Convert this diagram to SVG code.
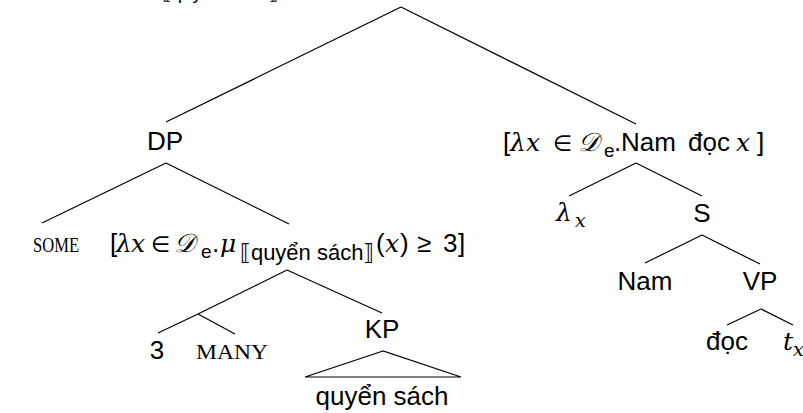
<svg xmlns="http://www.w3.org/2000/svg" width="803" height="413" viewBox="0 0 803 413">
<style>
.t{font-family:"Liberation Sans","DejaVu Sans",sans-serif;font-size:26px;fill:#000}
.m{font-family:"DejaVu Serif","Liberation Serif",serif;font-style:italic;font-size:25px}
.cal{font-family:"DejaVu Serif","Noto Sans","Liberation Serif",serif;font-style:italic;font-size:26px}
.in{font-family:"DejaVu Sans",sans-serif;font-size:22px}
.sub{font-size:19px}
.sb{font-size:22px}
.sc{font-family:"Liberation Serif","DejaVu Serif",serif;font-size:21px;fill:#000}
.e{stroke:#000;stroke-width:1.2;fill:none;stroke-linejoin:miter}
</style>
<rect width="803" height="413" fill="#fff"/>
<g id="edges">
<path class="e" d="M401 7 L166 122"/>
<path class="e" d="M401 7 L636 124"/>
<path class="e" d="M166 163 L42 223"/>
<path class="e" d="M166 163 L289 224"/>
<path class="e" d="M287 270 L198 314"/>
<path class="e" d="M287 270 L382 313"/>
<path class="e" d="M198 314 L158 333"/>
<path class="e" d="M198 314 L235 334"/>
<path class="e" d="M383 351 L305 377 L461 377 Z"/>
<path class="e" d="M636 163 L569 196"/>
<path class="e" d="M636 163 L702 196"/>
<path class="e" d="M702 235 L645 263"/>
<path class="e" d="M702 235 L760 264"/>
<path class="e" d="M761 309 L727 325"/>
<path class="e" d="M761 309 L793 325"/>
</g>
<g id="root"><text class="t sub" x="220" y="-1" text-anchor="middle">⟦quyển sách⟧</text></g>
<g id="dp"><text class="t" x="165" y="150" text-anchor="middle">DP</text></g>
<g id="some"><text class="sc" x="33" y="252" textLength="46" lengthAdjust="spacingAndGlyphs">SOME</text></g>
<g id="mid"><text class="t" y="252"><tspan x="110">[</tspan><tspan class="m" x="116">λ</tspan><tspan class="m" x="131">x</tspan><tspan class="in" x="151">∈</tspan><tspan class="cal" x="174">𝒟</tspan><tspan class="sub" x="201" y="258">e</tspan><tspan x="212" y="252">.</tspan><tspan class="m" x="220">μ</tspan><tspan class="sb" x="240" y="260">⟦quyển sách⟧</tspan><tspan x="376" y="252">(</tspan><tspan class="m" x="385">x</tspan><tspan x="400">)</tspan><tspan x="417">≥</tspan><tspan x="443">3</tspan><tspan x="458">]</tspan></text></g>
<g id="n3"><text class="t" x="157" y="359" text-anchor="middle">3</text></g>
<g id="many"><text class="sc" x="196" y="359" textLength="72" lengthAdjust="spacingAndGlyphs">MANY</text></g>
<g id="kp"><text class="t" x="382" y="338" text-anchor="middle">KP</text></g>
<g id="qs"><text class="t" x="382" y="405" text-anchor="middle">quyển sách</text></g>
<g id="right"><text class="t" y="151"><tspan x="503">[</tspan><tspan class="m" x="510">λ</tspan><tspan class="m" x="526">x</tspan><tspan class="in" x="553">∈</tspan><tspan class="cal" x="578">𝒟</tspan><tspan class="sub" x="604" y="157">e</tspan><tspan x="614" y="151">.</tspan><tspan x="621">Nam</tspan><tspan x="688">đọc</tspan><tspan class="m" x="736">x</tspan><tspan x="757">]</tspan></text></g>
<g id="lambda"><text class="t" y="221"><tspan class="m" x="556">λ</tspan><tspan class="m sub" x="575" y="227">x</tspan></text></g>
<g id="s"><text class="t" x="702" y="222" text-anchor="middle">S</text></g>
<g id="nam"><text class="t" x="645" y="290" text-anchor="middle">Nam</text></g>
<g id="vp"><text class="t" x="760" y="290" text-anchor="middle">VP</text></g>
<g id="doc"><text class="t" x="727" y="350" text-anchor="middle">đọc</text></g>
<g id="tx"><text class="t" y="350"><tspan class="m" x="783">t</tspan><tspan class="m sub" x="793" y="356">x</tspan></text></g>
</svg>
